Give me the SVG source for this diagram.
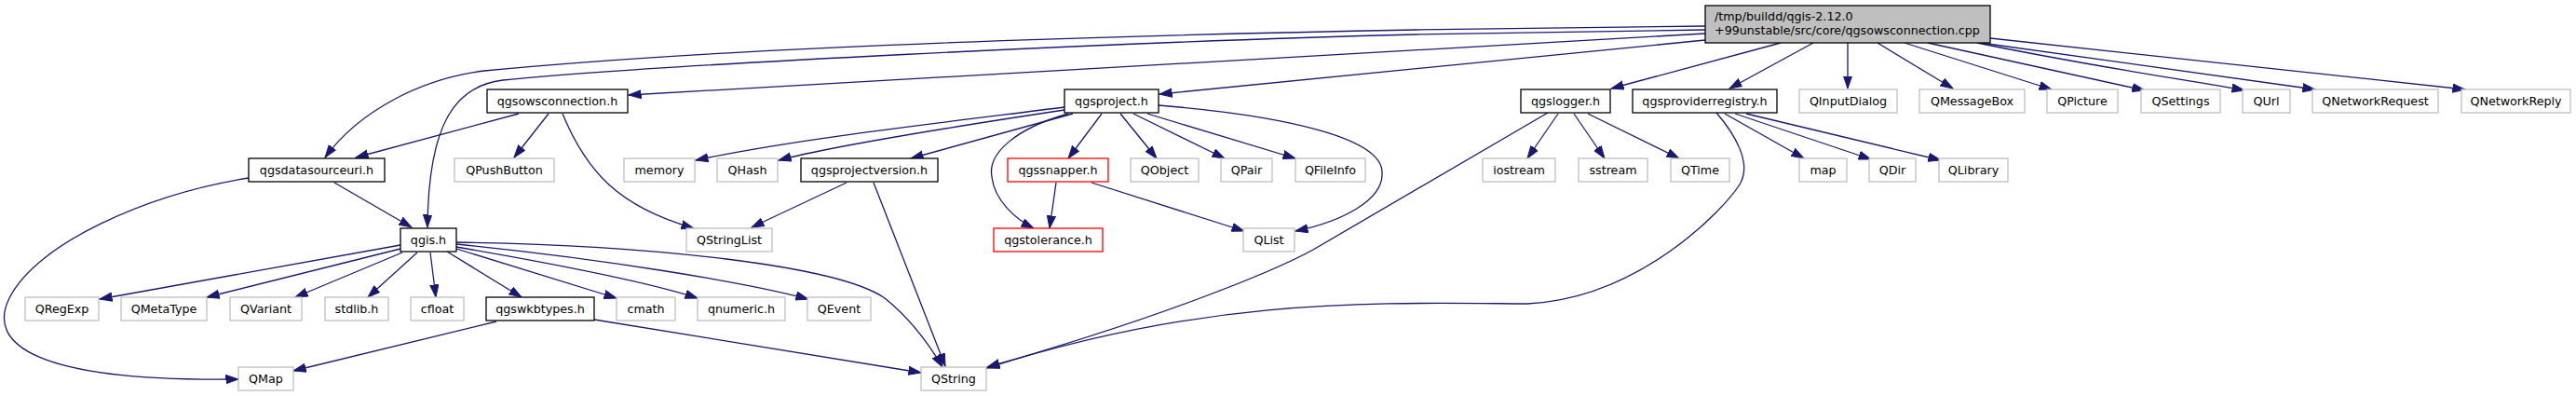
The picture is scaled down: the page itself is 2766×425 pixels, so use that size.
<svg xmlns="http://www.w3.org/2000/svg" width="2766" height="425" viewBox="0 0 2766 425">
<defs>
<marker id="ah" markerUnits="userSpaceOnUse" markerWidth="15" markerHeight="11" refX="13.5" refY="5" orient="auto">
<path d="M0,0.4 L13.5,5 L0,9.6 z" fill="#191970" stroke="#191970" stroke-width="1"/>
</marker>
<style>
.n rect{fill:#ffffff;stroke-width:1.3}
.b rect{stroke:#000000}
.g rect{stroke:#bfbfbf}
.r rect{stroke:#ff0000}
.m rect{fill:#bfbfbf;stroke:#000000}
text{font-family:"DejaVu Sans",sans-serif;font-size:12.7px;fill:#000000;text-anchor:middle}
.m text{text-anchor:start}
#edges path{fill:none;stroke:#191970;stroke-width:1.3;marker-end:url(#ah)}
</style>
</defs>
<rect width="2766" height="425" fill="#ffffff"/>
<g id="edges">
<path d="M1831,28 L1520,32 C1200,38 800,49 520,76 C450,85 385,120 349,169"/>
<path d="M1831,32 L1520,37 C1200,45 700,70 540,86 C490,92 460,130 459,244"/>
<path d="M1831,36 L675,102"/>
<path d="M1831,43 L1245,101"/>
<path d="M1912,46 L1730,95"/>
<path d="M1947,46 L1857,95"/>
<path d="M1984,46 L1984,95"/>
<path d="M2016,46 L2097,95"/>
<path d="M2045,46 L2203,96"/>
<path d="M2070,46 L2303,97"/>
<path d="M2123,46 C2250,72 2350,86 2410,97"/>
<path d="M2127,46 L2486,96"/>
<path d="M2137,41 L2647,96"/>
<path d="M557,122 L382,169"/>
<path d="M589,122 L552,169"/>
<path d="M604,122 C630,185 665,222 745,245"/>
<path d="M359,196 L442,244"/>
<path d="M267,191 C160,208 40,260 10,320 C-15,370 40,410 256,407"/>
<path d="M430,263 L107,321"/>
<path d="M430,267 L222,319"/>
<path d="M432,271 L317,319"/>
<path d="M448,271 L395,319"/>
<path d="M462,271 L468,319"/>
<path d="M480,270 L560,319"/>
<path d="M490,267 L662,320"/>
<path d="M490,265 C600,284 700,304 749,320"/>
<path d="M490,262 C650,278 800,303 868,321"/>
<path d="M490,260 C700,263 900,285 950,320 C975,340 995,365 1012,394"/>
<path d="M533,345 L315,398"/>
<path d="M638,343 L989,400"/>
<path d="M909,196 L807,244"/>
<path d="M938,196 L1015,393"/>
<path d="M1143,115 C1000,133 850,150 747,172"/>
<path d="M1143,118 C1050,132 900,155 836,172"/>
<path d="M1152,122 L978,170"/>
<path d="M1147,122 C1090,138 1060,165 1065,190 C1068,215 1090,235 1110,245"/>
<path d="M1183,122 L1147,170"/>
<path d="M1203,122 L1242,170"/>
<path d="M1217,122 L1315,170"/>
<path d="M1232,122 L1391,170"/>
<path d="M1244,113 C1390,125 1484,150 1484,185 C1486,215 1440,238 1391,248"/>
<path d="M1134,196 L1127,245"/>
<path d="M1172,196 L1336,248"/>
<path d="M1673,122 L1640,170"/>
<path d="M1690,122 L1723,170"/>
<path d="M1705,122 L1803,170"/>
<path d="M1662,121 L1410,268 C1370,290 1250,340 1060,394"/>
<path d="M1843,121 C1862,143 1882,175 1868,198 C1850,226 1760,320 1640,326 C1480,325 1300,318 1060,395"/>
<path d="M1852,122 L1937,170"/>
<path d="M1863,122 L2009,171"/>
<path d="M1875,122 L2084,172"/>
</g>
<g id="main" class="n m"><rect x="1831" y="6" width="306" height="40"/><text x="1841" y="22">/tmp/buildd/qgis-2.12.0</text><text x="1841" y="37">+99unstable/src/core/qgsowsconnection.cpp</text></g>
<g id="qgsowsconnection_h" class="n b"><rect x="523" y="96" width="151" height="25"/><text x="598.5" y="112.8">qgsowsconnection.h</text></g>
<g id="qgsproject_h" class="n b"><rect x="1143" y="96" width="101" height="25"/><text x="1193.5" y="112.8">qgsproject.h</text></g>
<g id="qgslogger_h" class="n b"><rect x="1633" y="96" width="96" height="25"/><text x="1681" y="112.8">qgslogger.h</text></g>
<g id="qgsproviderregistry_h" class="n b"><rect x="1753" y="96" width="155" height="25"/><text x="1830.5" y="112.8">qgsproviderregistry.h</text></g>
<g id="QInputDialog" class="n g"><rect x="1932" y="96" width="105" height="25"/><text x="1984.5" y="112.8">QInputDialog</text></g>
<g id="QMessageBox" class="n g"><rect x="2061" y="96" width="113" height="25"/><text x="2117.5" y="112.8">QMessageBox</text></g>
<g id="QPicture" class="n g"><rect x="2198" y="96" width="76" height="25"/><text x="2236" y="112.8">QPicture</text></g>
<g id="QSettings" class="n g"><rect x="2299" y="96" width="85" height="25"/><text x="2341.5" y="112.8">QSettings</text></g>
<g id="QUrl" class="n g"><rect x="2408" y="96" width="51" height="25"/><text x="2433.5" y="112.8">QUrl</text></g>
<g id="QNetworkRequest" class="n g"><rect x="2483" y="96" width="135" height="25"/><text x="2550.5" y="112.8">QNetworkRequest</text></g>
<g id="QNetworkReply" class="n g"><rect x="2643" y="96" width="117" height="25"/><text x="2701.5" y="112.8">QNetworkReply</text></g>
<g id="qgsdatasourceuri_h" class="n b"><rect x="267" y="170" width="146" height="25"/><text x="340" y="186.8">qgsdatasourceuri.h</text></g>
<g id="QPushButton" class="n g"><rect x="488" y="170" width="107" height="25"/><text x="541.5" y="186.8">QPushButton</text></g>
<g id="memory" class="n g"><rect x="670" y="170" width="76" height="25"/><text x="708" y="186.8">memory</text></g>
<g id="QHash" class="n g"><rect x="770" y="170" width="65" height="25"/><text x="802.5" y="186.8">QHash</text></g>
<g id="qgsprojectversion_h" class="n b"><rect x="860" y="170" width="147" height="25"/><text x="933.5" y="186.8">qgsprojectversion.h</text></g>
<g id="qgssnapper_h" class="n r"><rect x="1082" y="170" width="108" height="25"/><text x="1136" y="186.8">qgssnapper.h</text></g>
<g id="QObject" class="n g"><rect x="1214" y="170" width="73" height="25"/><text x="1250.5" y="186.8">QObject</text></g>
<g id="QPair" class="n g"><rect x="1311" y="170" width="55" height="25"/><text x="1338.5" y="186.8">QPair</text></g>
<g id="QFileInfo" class="n g"><rect x="1391" y="170" width="75" height="25"/><text x="1428.5" y="186.8">QFileInfo</text></g>
<g id="iostream" class="n g"><rect x="1592" y="170" width="78" height="25"/><text x="1631" y="186.8">iostream</text></g>
<g id="sstream" class="n g"><rect x="1695" y="170" width="74" height="25"/><text x="1732" y="186.8">sstream</text></g>
<g id="QTime" class="n g"><rect x="1794" y="170" width="63" height="25"/><text x="1825.5" y="186.8">QTime</text></g>
<g id="map" class="n g"><rect x="1932" y="170" width="51" height="25"/><text x="1957.5" y="186.8">map</text></g>
<g id="QDir" class="n g"><rect x="2007" y="170" width="50" height="25"/><text x="2032" y="186.8">QDir</text></g>
<g id="QLibrary" class="n g"><rect x="2082" y="170" width="74" height="25"/><text x="2119" y="186.8">QLibrary</text></g>
<g id="qgis_h" class="n b"><rect x="430" y="245" width="60" height="25"/><text x="460" y="261.8">qgis.h</text></g>
<g id="QStringList" class="n g"><rect x="737" y="245" width="92" height="25"/><text x="783" y="261.8">QStringList</text></g>
<g id="qgstolerance_h" class="n r"><rect x="1067" y="245" width="117" height="25"/><text x="1125.5" y="261.8">qgstolerance.h</text></g>
<g id="QList" class="n g"><rect x="1335" y="245" width="55" height="25"/><text x="1362.5" y="261.8">QList</text></g>
<g id="QRegExp" class="n g"><rect x="27" y="319" width="79" height="25"/><text x="66.5" y="335.8">QRegExp</text></g>
<g id="QMetaType" class="n g"><rect x="130" y="319" width="92" height="25"/><text x="176" y="335.8">QMetaType</text></g>
<g id="QVariant" class="n g"><rect x="247" y="319" width="77" height="25"/><text x="285.5" y="335.8">QVariant</text></g>
<g id="stdlib_h" class="n g"><rect x="349" y="319" width="68" height="25"/><text x="383" y="335.8">stdlib.h</text></g>
<g id="cfloat" class="n g"><rect x="441" y="319" width="57" height="25"/><text x="469.5" y="335.8">cfloat</text></g>
<g id="qgswkbtypes_h" class="n b"><rect x="522" y="319" width="116" height="25"/><text x="580" y="335.8">qgswkbtypes.h</text></g>
<g id="cmath" class="n g"><rect x="662" y="319" width="63" height="25"/><text x="693.5" y="335.8">cmath</text></g>
<g id="qnumeric_h" class="n g"><rect x="749" y="319" width="94" height="25"/><text x="796" y="335.8">qnumeric.h</text></g>
<g id="QEvent" class="n g"><rect x="867" y="319" width="68" height="25"/><text x="901" y="335.8">QEvent</text></g>
<g id="QMap" class="n g"><rect x="256" y="394" width="59" height="25"/><text x="285.5" y="410.8">QMap</text></g>
<g id="QString" class="n g"><rect x="989" y="394" width="70" height="25"/><text x="1024" y="410.8">QString</text></g>
</svg>
